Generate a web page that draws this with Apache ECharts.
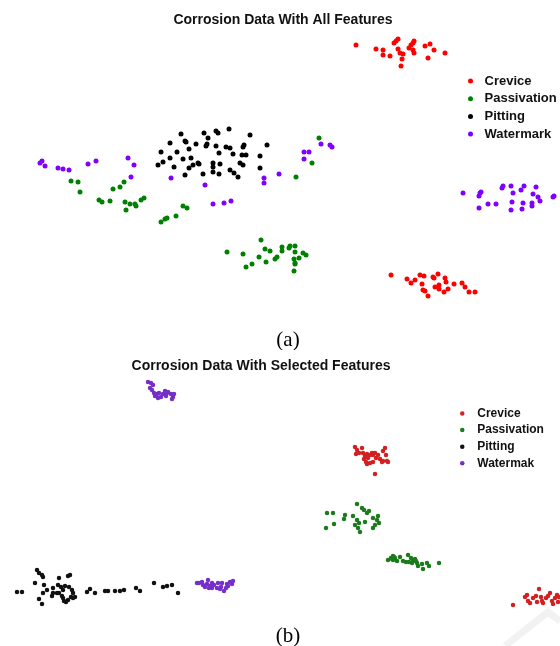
<!DOCTYPE html>
<html>
<head>
<meta charset="utf-8">
<script src="https://cdn.jsdelivr.net/npm/echarts@6/dist/echarts.min.js"></script>
<style>
html,body{margin:0;padding:0;background:#fff;}
#a{position:absolute;left:0;top:0;width:560px;height:350px;}
#b{position:absolute;left:0;top:350px;width:560px;height:296px;}
</style>
</head>
<body>
<div id="a"></div>
<div id="b"></div>
<script>
// ---------- data (embedding coordinates) ----------
const titleA = 'Corrosion Data With All Features';
const titleB = 'Corrosion Data With Selected Features';
const captionA = '(a)';
const captionB = '(b)';
const legendA = ['Crevice', 'Passivation', 'Pitting', 'Watermark'];
const legendB = ['Crevice', 'Passivation', 'Pitting', 'Watermak'];

const aCrevice = [
  [356,45],[376,49],[383,50],[383,55],[390,56],[394,43],[396,41],[398,39],[398,49],[400,53],[403,54],[402,59],[401,66],[409,48],[411,45],[413,43],[414,41],[413,50],[414,53],[425,46],[430,44],[434,50],[428,58],[445,53],
  [391,275],[407,279],[411,283],[415,280],[420,275],[424,276],[422,284],[423,290],[425,291],[428,296],[433,277],[434,278],[435,287],[438,274],[439,285],[439,289],[444,292],[445,278],[446,282],[448,289],[454,284],[462,283],[465,287],[469,292],[475,292]
];
const aPassivation = [
  [319,138],[312,163],[296,177],[71,181],[78,182],[80,192],[99,200],[102,202],[110,201],[113,189],[120,187],[124,182],[125,202],[130,204],[135,204],[136,206],[126,210],[141,200],[144,198],[161,222],[165,219],[167,218],[176,216],[183,206],[187,208],
  [261,240],[227,252],[243,254],[246,267],[252,264],[259,257],[266,262],[265,249],[270,251],[275,259],[277,257],[282,251],[282,247],[289,248],[290,246],[295,246],[295,252],[294,259],[299,258],[303,253],[306,255],[295,263],[295,264],[294,271]
];
const aPitting = [
  [181,134],[204,133],[208,138],[216,131],[218,133],[229,129],[250,135],
  [170,143],[185,141],[186,142],[196,144],[206,146],[207,144],[216,146],[226,147],[230,148],[243,147],[244,145],[267,145],
  [161,152],[177,152],[189,149],[219,153],[233,154],[242,155],[246,155],[260,156],
  [170,158],[183,159],[191,158],[198,163],[199,164],[213,163],[220,164],[240,163],[243,165],[163,162],[158,165],[174,167],[189,168],[193,165],[213,167],[260,168],
  [185,175],[203,174],[213,172],[219,174],[230,170],[234,173],[238,177]
];
const aWatermark = [
  [40,163],[42,161],[45,166],[58,168],[63,169],[69,170],[88,164],[96,161],[128,158],[134,165],[131,177],[171,178],[205,185],[213,204],[224,203],[231,201],[264,178],[264,183],[279,174],[304,159],[304,152],[309,152],[321,144],[330,145],[332,147],
  [463,193],[479,196],[480,193],[481,192],[479,208],[488,204],[496,204],[502,188],[503,186],[511,186],[513,193],[521,190],[524,186],[536,187],[533,194],[538,197],[540,201],[532,203],[532,206],[523,203],[512,202],[511,210],[522,209],[553,197],[554,196]
];

const bCrevice = [
  [355,447],[357,450],[356,454],[359,453],[362,448],[363,453],[365,456],[364,459],[367,454],[368,458],[370,455],[372,453],[373,455],[375,453],[373,462],[370,463],[367,464],[366,462],[376,458],[378,455],[380,459],[382,462],[383,451],[385,448],[386,455],[387,461],[388,462],[375,474],[383,461],
  [513,605],[525,597],[527,595],[528,601],[530,603],[533,598],[536,596],[537,602],[539,589],[541,597],[542,601],[543,603],[546,598],[548,596],[550,593],[552,601],[553,604],[555,598],[557,595],[558,602],[559,597]
];
const bPassivation = [
  [327,513],[333,513],[326,528],[334,524],[344,519],[345,515],[353,516],[357,520],[355,525],[357,504],[362,508],[364,510],[367,513],[369,511],[359,523],[365,522],[360,532],[373,518],[378,516],[377,520],[379,523],[375,525],[373,528],[358,528],
  [388,560],[391,558],[393,556],[395,558],[393,560],[397,561],[400,557],[403,561],[406,562],[408,555],[411,558],[412,563],[413,561],[415,559],[417,563],[418,566],[422,564],[423,569],[427,563],[429,566],[439,563],[392,559],[394,557],[409,562],[416,561]
];
const bPitting = [
  [17,592],[22,592],[35,583],[37,570],[39,573],[42,575],[43,577],[44,585],[43,593],[39,599],[42,604],[53,588],[53,593],[52,596],[59,578],[58,585],[61,587],[59,593],[62,596],[63,590],[65,586],[68,576],[70,575],[69,587],[72,590],[73,593],[71,597],[68,600],[66,602],[64,601],[63,598],[73,598],[75,597],[57,593],[47,590],
  [87,592],[90,589],[95,593],[105,591],[108,591],[115,591],[120,591],[124,590],[136,588],[140,591],[154,583],[163,587],[167,586],[172,585],[178,593]
];
const bWatermak = [
  [148,382],[151,383],[153,385],[150,388],[152,390],[154,393],[157,394],[159,393],[161,397],[163,394],[165,391],[167,393],[168,392],[166,396],[171,394],[173,397],[174,394],[172,399],[155,396],[158,398],
  [197,583],[199,583],[202,582],[203,585],[205,587],[207,584],[208,580],[210,586],[212,583],[212,588],[214,585],[217,588],[218,583],[221,587],[222,583],[224,591],[227,584],[228,586],[230,582],[232,584],[233,581],[226,588],[220,589],[209,588]
];

// ---------- styles ----------
const colorsA = ['#ff0000', '#008000', '#000000', '#8000ff'];
const colorsB = ['#d32020', '#1c7c1c', '#111111', '#7430c8'];
const FONT = '"Liberation Sans", Arial, sans-serif';
const SERIF = '"Liberation Serif", "Times New Roman", serif';

function makeOption(cfg) {
  return {
    animation: false,
    grid: {left: 0, right: 0, top: 0, bottom: 0},
    xAxis: {type: 'value', min: 0, max: 560, show: false},
    yAxis: {type: 'value', min: cfg.yMin, max: cfg.yMax, inverse: true, show: false},
    legend: {
      orient: 'vertical',
      left: cfg.legendLeft,
      top: cfg.legendTop,
      icon: 'circle',
      itemWidth: cfg.iconBox,
      itemHeight: cfg.iconSize,
      itemGap: cfg.legendGap,
      padding: 0,
      selectedMode: false,
      data: cfg.names,
      textStyle: {fontFamily: FONT, fontWeight: 'bold', fontSize: cfg.legendFont, lineHeight: cfg.legendLine, color: '#111'}
    },
    graphic: cfg.graphic,
    series: cfg.names.map((n, i) => ({
      name: n,
      type: 'scatter',
      data: cfg.data[i],
      symbol: 'circle',
      symbolSize: cfg.symbolSize,
      itemStyle: {color: cfg.colors[i], opacity: 1},
      emphasis: {disabled: true}
    }))
  };
}

const chartA = echarts.init(document.getElementById('a'), null, {renderer: 'canvas'});
chartA.setOption(makeOption({
  yMin: 0, yMax: 350,
  names: legendA,
  data: [aCrevice, aPassivation, aPitting, aWatermark],
  colors: colorsA,
  symbolSize: 5,
  legendLeft: 468, legendTop: 74, iconBox: 18, iconSize: 5, legendGap: 3.7, legendFont: 13, legendLine: 14,
  graphic: [
    {type: 'text', x: 283, y: 20, style: {text: titleA, font: 'bold 14px ' + FONT, fill: '#111', textAlign: 'center', textVerticalAlign: 'middle'}},
    {type: 'text', x: 288, y: 340, style: {text: captionA, font: '21px ' + SERIF, fill: '#000', textAlign: 'center', textVerticalAlign: 'middle'}}
  ]
}));

const chartB = echarts.init(document.getElementById('b'), null, {renderer: 'canvas'});
chartB.setOption(makeOption({
  yMin: 350, yMax: 646,
  names: legendB,
  data: [bCrevice, bPassivation, bPitting, bWatermak],
  colors: colorsB,
  symbolSize: 4.5,
  legendLeft: 460, legendTop: 57, iconBox: 20, iconSize: 4.5, legendGap: 3.6, legendFont: 12, legendLine: 13,
  graphic: [
    {type: 'polyline', z: -1, shape: {points: [[505, 296], [548, 262], [560, 271]]}, style: {stroke: '#f2f2f2', lineWidth: 7, fill: null}},
    {type: 'text', x: 261, y: 16.5, style: {text: titleB, font: 'bold 14px ' + FONT, fill: '#111', textAlign: 'center', textVerticalAlign: 'middle'}},
    {type: 'text', x: 288, y: 286, style: {text: captionB, font: '21px ' + SERIF, fill: '#000', textAlign: 'center', textVerticalAlign: 'middle'}}
  ]
}));
</script>
</body>
</html>
